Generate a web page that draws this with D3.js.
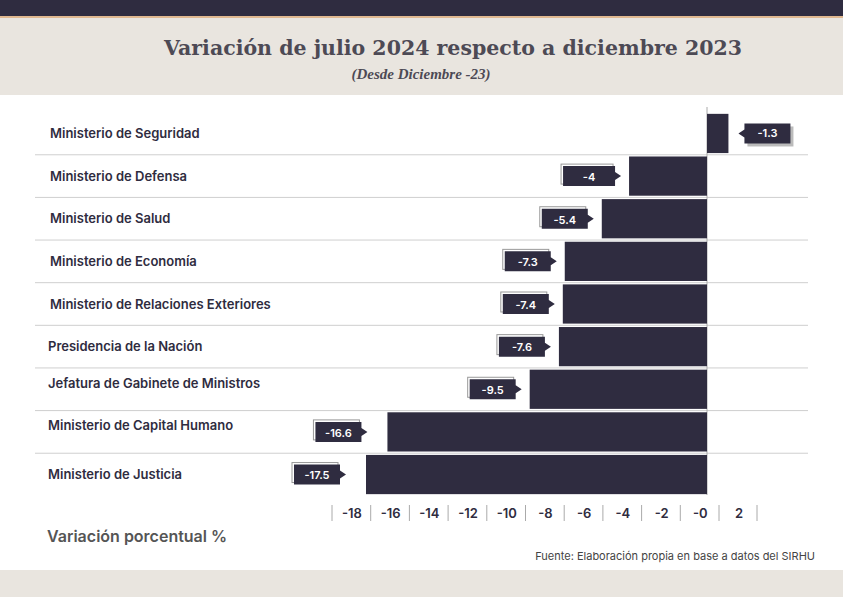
<!DOCTYPE html>
<html><head><meta charset="utf-8">
<script src="https://cdn.jsdelivr.net/npm/d3@7"></script>
<style>body{margin:0;background:#fff}svg{display:block}</style>
</head><body>
<svg id="c" width="843" height="597"></svg>
<script>
var categories = ["Ministerio de Seguridad","Ministerio de Defensa","Ministerio de Salud","Ministerio de Economía","Ministerio de Relaciones Exteriores","Presidencia de la Nación","Jefatura de Gabinete de Ministros","Ministerio de Capital Humano","Ministerio de Justicia"];
var values = [1.1, -4, -5.4, -7.3, -7.4, -7.6, -9.1, -16.4, -17.5];
var valueLabels = ["-1.3","-4","-5.4","-7.3","-7.4","-7.6","-9.5","-16.6","-17.5"];
var ticks = [-18,-16,-14,-12,-10,-8,-6,-4,-2,0,2];
var tickLabels = ["-18","-16","-14","-12","-10","-8","-6","-4","-2","-0","2"];

var dark = "#2f2c40", font = "Inter, 'Open Sans', sans-serif";
var svg = d3.select("#c");
svg.append("rect").attr("width",843).attr("height",16).attr("fill",dark);
svg.append("rect").attr("y",16).attr("width",843).attr("height",2).attr("fill","#e0b890");
svg.append("rect").attr("y",18).attr("width",843).attr("height",77).attr("fill","#e9e5df");
svg.append("rect").attr("y",570).attr("width",843).attr("height",27).attr("fill","#e9e5df");
svg.append("text").attr("x",453).attr("y",55).attr("text-anchor","middle").attr("font-family","'DejaVu Serif', serif").attr("font-weight","bold").attr("font-size",20.5).attr("fill","#4d4a55").text("Variación de julio 2024 respecto a diciembre 2023");
svg.append("text").attr("x",421).attr("y",79).attr("text-anchor","middle").attr("font-family","'Liberation Serif', serif").attr("font-style","italic").attr("font-weight","bold").attr("font-size",15).attr("fill","#4d4a55").text("(Desde Diciembre -23)");

var x = d3.scaleLinear().domain([0,-17.5]).range([707,366]);
var y = d3.scaleBand().domain(categories).range([113,495]).paddingInner(0.08).paddingOuter(0.02);

svg.selectAll(".sep").data(categories.slice(1)).join("line")
  .attr("x1",35).attr("x2",808)
  .attr("y1",d=>y(d)-y.step()*0.04).attr("y2",d=>y(d)-y.step()*0.04)
  .attr("stroke","#cfcfcf");
svg.append("line").attr("x1",x(0)).attr("x2",x(0)).attr("y1",107).attr("y2",495).attr("stroke","#aaa");

svg.selectAll(".bar").data(values).join("rect")
  .attr("x",d=>Math.min(x(d),x(0))).attr("width",d=>Math.abs(x(d)-x(0)))
  .attr("y",(d,i)=>y(categories[i])).attr("height",y.bandwidth()).attr("fill",dark);

svg.selectAll(".cat").data(categories).join("text")
  .attr("x",(d,i)=>i>4?48:50).attr("y",d=>y(d)+y.bandwidth()/2+(d.startsWith("Jefatura")||d.includes("Capital")?-6:0))
  .attr("dy","0.35em").attr("font-family",font).attr("font-weight",600).attr("font-size",13).attr("fill","#2f2c40").text(d=>d);

values.forEach(function(v,i){
  var cy = y(categories[i])+y.bandwidth()/2, w = valueLabels[i].length>3?46:52, h=20;
  var g = svg.append("g");
  if (v>0){
    var bx = x(v)+16;
    g.append("rect").attr("x",bx+3).attr("y",cy-h/2+3).attr("width",w).attr("height",h).attr("fill","#bbb");
    g.append("path").attr("d",`M${bx},${cy-h/2}h${w}v${h}h${-w}v-6l-6,-4l6,-4z`).attr("fill",dark);
    g.append("text").attr("x",bx+w/2).attr("y",cy).attr("dy","0.35em").attr("text-anchor","middle").attr("font-family",font).attr("font-size",11).attr("font-weight",600).attr("fill","#fff").text(valueLabels[i]);
  } else {
    var ex = x(v)-(i>6?20:8), bx2 = ex-6-w;
    g.append("rect").attr("x",bx2-2).attr("y",cy-h/2-2).attr("width",w).attr("height",h).attr("fill","none").attr("stroke","#999").attr("stroke-width",1);
    g.append("path").attr("d",`M${bx2},${cy-h/2}h${w}v6l6,4l-6,4v6h${-w}z`).attr("fill",dark);
    g.append("text").attr("x",bx2+w/2).attr("y",cy+1).attr("dy","0.35em").attr("text-anchor","middle").attr("font-family",font).attr("font-size",11).attr("font-weight",600).attr("fill","#fff").text(valueLabels[i]);
  }
});

var tx = d3.scaleLinear().domain([-18,2]).range([352,739]);
var ax = svg.append("g").attr("transform","translate(0,513)");
ax.selectAll("text").data(ticks).join("text").attr("x",d=>tx(d)).attr("y",0).attr("dy","0.35em")
  .attr("text-anchor","middle").attr("font-family",font).attr("font-weight",600).attr("font-size",13).attr("fill","#2f2c40").text((d,i)=>tickLabels[i]);
var seps = ticks.map(d=>tx(d)-20).concat([tx(2)+18]);
ax.selectAll("line").data(seps).join("line").attr("x1",d=>d).attr("x2",d=>d).attr("y1",-8).attr("y2",8).attr("stroke","#aaa");

svg.append("text").attr("x",47).attr("y",542).attr("font-family",font).attr("font-weight",600).attr("font-size",16).attr("fill","#555").text("Variación porcentual %");
svg.append("text").attr("x",815).attr("y",560).attr("text-anchor","end").attr("font-family",font).attr("font-size",11).attr("fill","#444").text("Fuente: Elaboración propia en base a datos del SIRHU");
</script>
</body></html>
